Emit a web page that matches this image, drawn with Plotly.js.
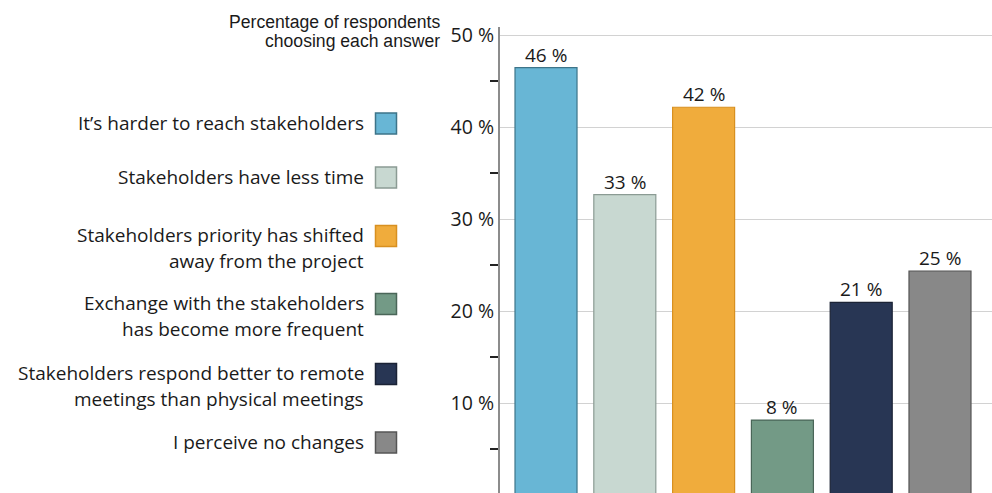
<!DOCTYPE html>
<html>
<head>
<meta charset="utf-8">
<script src="https://cdn.plot.ly/plotly-3.0.1.min.js"></script>
<style>
  html, body { margin: 0; padding: 0; background: #ffffff; }
  #chart { width: 992px; height: 493px; }
</style>
</head>
<body>
<div id="chart"></div>
<script>
// ---- data ----
const categories = [
  "It\u2019s harder to reach stakeholders",
  "Stakeholders have less time",
  "Stakeholders priority has shifted away from the project",
  "Exchange with the stakeholders has become more frequent",
  "Stakeholders respond better to remote meetings than physical meetings",
  "I perceive no changes"
];
const legendLines = [
  ["It\u2019s harder to reach stakeholders"],
  ["Stakeholders have less time"],
  ["Stakeholders priority has shifted", "away from the project"],
  ["Exchange with the stakeholders", "has become more frequent"],
  ["Stakeholders respond better to remote", "meetings than physical meetings"],
  ["I perceive no changes"]
];
const values = [46.5, 32.7, 42.2, 8.2, 21.0, 24.4];
const valueLabels = ["46 %", "33 %", "42 %", "8 %", "21 %", "25 %"];
const fillColors = ["#68b6d5", "#c8d8d1", "#f0ac3c", "#739a86", "#283654", "#888888"];
const edgeColors = ["#3d7489", "#8b9b94", "#d89020", "#4a6658", "#1b2335", "#555555"];
const yTickVals = [10, 20, 30, 40, 50];
const yTickText = ["10 %", "20 %", "30 %", "40 %", "50 %"];
const axisTitleLines = ["Percentage of respondents", "choosing each answer"];

// ---- layout helpers (pixel -> paper) ----
const W = 992, H = 493;
const px = x => x / W;
const py = y => 1 - y / H;
const FONT = "Open Sans, Noto Sans, sans-serif";

const trace = {
  type: "bar",
  x: categories,
  y: values,
  marker: { color: fillColors, line: { color: edgeColors, width: 1.2 } },
  hoverinfo: "none",
  showlegend: false
};

const legendCenters = [122.5, 176.5, 235, 303, 373, 441.5];
const shapes = [];
const annotations = [];

// value labels above bars, positioned through the axes
categories.forEach((c, i) => {
  annotations.push({
    xref: "x", yref: "y", x: c, y: values[i],
    xanchor: "center", yanchor: "bottom", yshift: -2, showarrow: false,
    text: valueLabels[i],
    font: { family: FONT, size: 19, color: "#1a1a1a" }
  });
});

legendCenters.forEach((cy, i) => {
  shapes.push({
    type: "rect", xref: "paper", yref: "paper",
    x0: px(375.5), x1: px(396.5), y0: py(cy + 1 - 10.5), y1: py(cy + 1 + 10.5),
    fillcolor: fillColors[i], line: { color: edgeColors[i], width: 1.5 }
  });
  legendLines[i].forEach((line, j) => {
    annotations.push({
      xref: "paper", yref: "paper", x: px(366), y: py(cy + j * 26),
      xanchor: "right", yanchor: "middle", showarrow: false,
      text: line, align: "right",
      font: { family: FONT, size: 19, color: "#1a1a1a" }
    });
  });
});
axisTitleLines.forEach((line, j) => {
  annotations.push({
    xref: "paper", yref: "paper", x: px(441.5), y: py(21.5 + j * 20),
    xanchor: "right", yanchor: "middle", showarrow: false,
    text: line, align: "right",
    font: { family: "Liberation Sans, Arial, sans-serif", size: 17.6, color: "#1a1a1a" }
  });
});

const layout = {
  width: W, height: H,
  margin: { l: 0, r: 0, t: 0, b: 0 },
  paper_bgcolor: "#ffffff", plot_bgcolor: "#ffffff",
  bargap: 0.213,
  xaxis: {
    domain: [px(500), 1],
    type: "category",
    range: [-0.584, 5.66],
    showticklabels: false, showgrid: false, zeroline: false, showline: false,
    ticks: "", fixedrange: true
  },
  yaxis: {
    domain: [0, py(27)],
    range: [0.27, 50.92],
    tickmode: "array", tickvals: yTickVals, ticktext: yTickText,
    ticks: "",
    tickfont: { family: FONT, size: 19.5, color: "#1a1a1a" },
    showgrid: true, gridcolor: "#d2d2d2", gridwidth: 1.5,
    zeroline: false,
    showline: true, linecolor: "#8c8c8c", linewidth: 2,
    minor: { tickmode: "array", tickvals: [5, 15, 25, 35, 45], ticks: "outside", ticklen: 8, tickwidth: 2, tickcolor: "#222222", showgrid: false },
    fixedrange: true
  },
  shapes: shapes,
  annotations: annotations,
  showlegend: false
};

Plotly.newPlot("chart", [trace], layout, { displayModeBar: false, staticPlot: true });
</script>
</body>
</html>
